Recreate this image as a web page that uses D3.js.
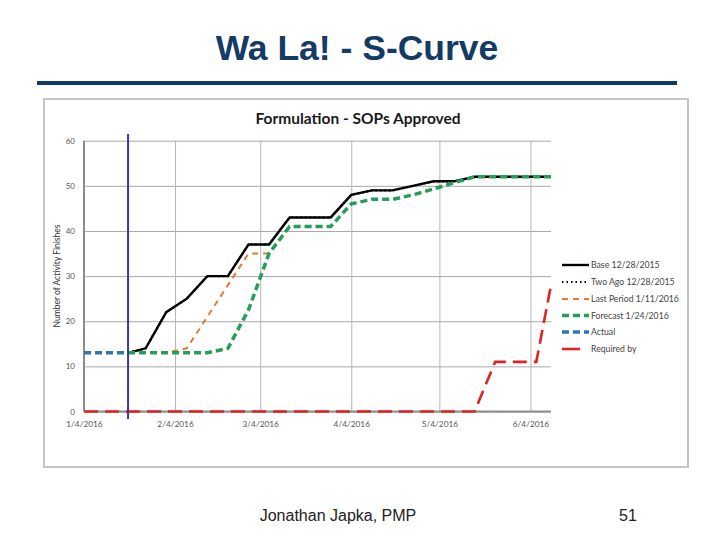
<!DOCTYPE html>
<html><head><meta charset="utf-8">
<script src="https://cdn.jsdelivr.net/npm/d3@7"></script>
<style>body{margin:0;background:#fff}</style>
</head><body>
<svg id="c" width="720" height="540"></svg>
<script>
// ---------- data ----------
const slideTitle = "Wa La! - S-Curve";
const chartTitle = "Formulation - SOPs Approved";
const footerText = "Jonathan Japka, PMP";
const pageNumber = "51";
const yAxisTitle = "Number of Activity Finishes";
const yTicks = [0, 10, 20, 30, 40, 50, 60];
const xTicks = ["2016-01-04", "2016-02-04", "2016-03-04", "2016-04-04", "2016-05-04", "2016-06-04"];
const xDomain = ["2016-01-04", "2016-06-11"];
const statusDate = "2016-01-19";

const baseDates = ["2016-01-19","2016-01-25","2016-02-01","2016-02-08","2016-02-15","2016-02-22","2016-02-29","2016-03-07","2016-03-14","2016-03-21","2016-03-28","2016-04-04","2016-04-11","2016-04-18","2016-04-25","2016-05-02","2016-05-09","2016-05-16","2016-05-23","2016-05-30","2016-06-06","2016-06-11"];
const baseValues = [13, 14, 22, 25, 30, 30, 37, 37, 43, 43, 43, 48, 49, 49, 50, 51, 51, 52, 52, 52, 52, 52];

const twoAgoDates = baseDates;
const twoAgoValues = [13, 14, 22, 25, 30, 30, 37, 37, 43, 43, 43, 48, 49, 49, 50, 51, 51, 52, 52, 52, 52, 52];

const lastPeriodDates = ["2016-01-04","2016-01-11","2016-01-18","2016-01-25","2016-02-01","2016-02-08","2016-02-15","2016-02-22","2016-02-29","2016-03-07","2016-03-14","2016-03-21","2016-03-28","2016-04-04","2016-04-11","2016-04-18","2016-04-25","2016-05-02","2016-05-09","2016-05-16","2016-05-23","2016-05-30","2016-06-06","2016-06-11"];
const lastPeriodValues = [13, 13, 13, 13, 13, 14, 21, 28, 35, 35, 41, 41, 41, 46, 47, 47, 48, 49.3, 50.7, 52, 52, 52, 52, 52];

const forecastDates = ["2016-01-19","2016-01-25","2016-02-01","2016-02-08","2016-02-15","2016-02-22","2016-02-29","2016-03-07","2016-03-14","2016-03-21","2016-03-28","2016-04-04","2016-04-11","2016-04-18","2016-04-25","2016-05-02","2016-05-09","2016-05-16","2016-05-23","2016-05-30","2016-06-06","2016-06-11"];
const forecastValues = [13, 13, 13, 13, 13, 14, 22.5, 35, 41, 41, 41, 46, 47, 47, 48, 49.3, 50.7, 52, 52, 52, 52, 52];

const actualDates = ["2016-01-04","2016-01-11","2016-01-19"];
const actualValues = [13, 13, 13];

const requiredDates = ["2016-01-04","2016-02-04","2016-03-04","2016-04-04","2016-05-04","2016-05-16","2016-05-23","2016-05-30","2016-06-06","2016-06-11"];
const requiredValues = [0, 0, 0, 0, 0, 0, 11, 11, 11, 28];

const seriesNames = ["Base 12/28/2015", "Two Ago 12/28/2015", "Last Period 1/11/2016", "Forecast 1/24/2016", "Actual", "Required by"];

// ---------- drawing ----------
const parse = d3.utcParse("%Y-%m-%d");
const svg = d3.select("#c");
svg.append("rect").attr("width", 720).attr("height", 540).attr("fill", "#fff");

// slide title
svg.append("text").attr("x", 357).attr("y", 60).attr("text-anchor", "middle")
  .attr("font-family", "Liberation Sans, Arial, sans-serif").attr("font-weight", "bold")
  .attr("font-size", 35.5).attr("fill", "#133b66").text(slideTitle);
svg.append("rect").attr("x", 37).attr("y", 81).attr("width", 640).attr("height", 4).attr("fill", "#0f3a68");

// chart frame
svg.append("rect").attr("x", 44).attr("y", 99).attr("width", 644).attr("height", 368)
  .attr("fill", "#fff").attr("stroke", "#c4c4c4").attr("stroke-width", 2);

const font = "Lato, 'Open Sans', sans-serif";
svg.append("text").attr("x", 358).attr("y", 124).attr("text-anchor", "middle")
  .attr("font-family", font).attr("font-weight", "bold").attr("font-size", 15.5)
  .attr("fill", "#1a1a1a").text(chartTitle);

const x = d3.scaleUtc().domain(xDomain.map(parse)).range([84, 551]);
const y = d3.scaleLinear().domain([0, 60]).range([411.5, 140.7]);

const g = svg.append("g");
// horizontal grid
const yAxis = d3.axisLeft(y).tickValues(yTicks).tickSize(-(551 - 84)).tickPadding(9);
const ya = g.append("g").attr("transform", "translate(84,0)").call(yAxis);
ya.select(".domain").remove();
ya.selectAll(".tick line").attr("stroke", "#a8a8a8").attr("stroke-width", 1);
ya.selectAll(".tick text").attr("font-family", font).attr("font-size", 8).attr("fill", "#555");

// vertical grid
const xAxis = d3.axisBottom(x).tickValues(xTicks.map(parse)).tickFormat(d3.utcFormat("%-m/%-d/%Y"))
  .tickSize(-(411.5 - 140.7)).tickPadding(10);
const xa = g.append("g").attr("transform", "translate(0,411.5)").call(xAxis);
xa.select(".domain").remove();
xa.selectAll(".tick line").attr("stroke", "#b4b4b4").attr("stroke-width", 1);
xa.selectAll(".tick text").attr("font-family", font).attr("font-size", 8.3).attr("fill", "#555");

// axis lines
g.append("line").attr("x1", 84).attr("x2", 84).attr("y1", 140.7).attr("y2", 411.5).attr("stroke", "#8c8c8c").attr("stroke-width", 2);
g.append("line").attr("x1", 84).attr("x2", 551).attr("y1", 411.5).attr("y2", 411.5).attr("stroke", "#8c8c8c").attr("stroke-width", 2);

// y axis title
svg.append("text").attr("transform", "translate(60,276) rotate(-90)").attr("text-anchor", "middle")
  .attr("font-family", font).attr("font-size", 8.5).attr("fill", "#333").text(yAxisTitle);

const styles = [
  {color: "#000", width: 2.4, dash: null, cap: "butt"},
  {color: "#000", width: 2.2, dash: "1.5,3", cap: "butt"},
  {color: "#e07b34", width: 2, dash: "6,5", cap: "butt"},
  {color: "#22a05a", width: 3.5, dash: "7,4", cap: "butt"},
  {color: "#2e75b6", width: 3.5, dash: "7,4", cap: "butt"},
  {color: "#e02222", width: 2.6, dash: "14,7", cap: "butt"}
];
const series = [
  [baseDates, baseValues], [twoAgoDates, twoAgoValues], [lastPeriodDates, lastPeriodValues],
  [forecastDates, forecastValues], [actualDates, actualValues], [requiredDates, requiredValues]
];
const line = d3.line().x(d => x(d[0])).y(d => y(d[1]));
series.forEach((s, i) => {
  const pts = s[0].map((d, j) => [parse(d), s[1][j]]);
  g.append("path").attr("d", line(pts)).attr("fill", "none")
    .attr("stroke", styles[i].color).attr("stroke-width", styles[i].width)
    .attr("stroke-dasharray", styles[i].dash).attr("stroke-linejoin", "miter")
    .attr("stroke-linecap", styles[i].cap);
});

// status line
const sx = x(parse(statusDate));
g.append("line").attr("x1", sx).attr("x2", sx).attr("y1", 134).attr("y2", 419)
  .attr("stroke", "#3838aa").attr("stroke-width", 2);

// legend
const legY = [265, 282, 299, 315.5, 332, 349];
const leg = svg.append("g");
seriesNames.forEach((n, i) => {
  leg.append("line").attr("x1", 562).attr("x2", 589).attr("y1", legY[i]).attr("y2", legY[i])
    .attr("stroke", styles[i].color).attr("stroke-width", styles[i].width)
    .attr("stroke-dasharray", i === 5 ? "18,40" : styles[i].dash);
  leg.append("text").attr("x", 591).attr("y", legY[i] + 3).attr("font-family", font)
    .attr("font-size", 8.7).attr("fill", "#444").text(n);
});

// footer
svg.append("text").attr("x", 338).attr("y", 521).attr("text-anchor", "middle")
  .attr("font-family", "Liberation Sans, Arial, sans-serif").attr("font-size", 16).attr("fill", "#222").text(footerText);
svg.append("text").attr("x", 628).attr("y", 521).attr("text-anchor", "middle")
  .attr("font-family", "Liberation Sans, Arial, sans-serif").attr("font-size", 16).attr("fill", "#222").text(pageNumber);
</script>
</body></html>
